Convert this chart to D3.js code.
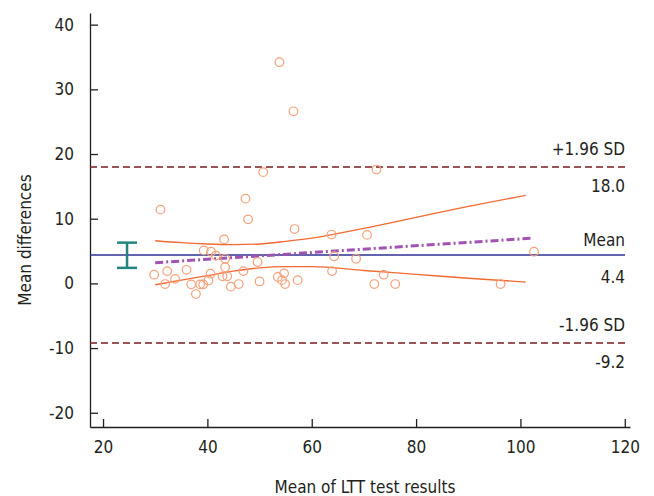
<!DOCTYPE html>
<html>
<head>
<meta charset="utf-8">
<script src="https://cdn.jsdelivr.net/npm/d3@7"></script>
<style>
  body { margin: 0; background: #fff; }
  svg text { font-family: "Liberation Sans Narrow", "DejaVu Sans Condensed", "Roboto", sans-serif; font-stretch: condensed; fill: #231f20; }
  .axis path, .axis line { stroke: #231f20; stroke-width: 1.3; }
</style>
</head>
<body>
<svg id="chart" width="654" height="496"></svg>
<script>
//----------------
// Data
//----------------

// mean of the two LTT measurements (x) and their difference (y)
const meanX = [29.8, 31.0, 31.9, 32.3, 33.8, 36.0, 36.9, 37.8, 38.6, 39.2, 39.3, 40.2, 40.6, 40.7,
  41.6, 42.9, 43.2, 43.4, 43.4, 43.8, 44.5, 46.0, 46.9, 47.3, 47.8, 49.6, 50.0, 50.7, 53.5, 53.8,
  54.3, 54.7, 54.9, 56.5, 56.7, 57.3, 63.8, 63.9, 64.3, 68.5, 70.6, 72.0, 72.4, 73.8, 76.0, 96.2, 102.6];
const diffY = [1.35, 11.4, -0.1, 1.9, 0.7, 2.1, -0.15, -1.65, -0.15, -0.15, 5.1, 0.45, 1.5, 4.9,
  4.3, 1.1, 6.8, 3.8, 2.5, 1.1, -0.5, -0.1, 1.9, 13.1, 9.9, 3.3, 0.3, 17.2, 1.0, 34.2,
  0.5, 1.55, -0.1, 26.6, 8.4, 0.5, 7.55, 1.9, 4.2, 3.8, 7.5, -0.1, 17.6, 1.35, -0.1, -0.1, 4.9];

// limits of agreement
const meanDiff = 4.4;
const upperLoA = 18.0;
const lowerLoA = -9.2;

// confidence interval of the mean difference (error bar)
const ciX = 24.6;
const ciRange = [2.4, 6.3];

// regression line of differences on means
const regX = [30, 102.5];
const regY = [3.2, 7.0];

// confidence band around the regression line
const bandX = [30, 35, 40, 45, 50, 55, 60, 70, 80, 90, 101];
const bandUpper = [6.6, 6.3, 6.1, 6.0, 6.1, 6.5, 7.0, 8.5, 10.2, 11.9, 13.6];
const bandLower = [-0.2, 0.5, 1.2, 1.9, 2.4, 2.6, 2.6, 2.0, 1.4, 0.8, 0.2];

const xTicks = [20, 40, 60, 80, 100, 120];
const yTicks = [-20, -10, 0, 10, 20, 30, 40];

//----------------
// Scales
//----------------

const svg = d3.select("#chart");

const x = d3.scaleLinear().domain([17.5, 121]).range([90, 630]);
const y = d3.scaleLinear().domain([-22.2, 41.8]).range([427, 13]);

const lineEnd = 625;

//----------------
// Axes
//----------------

svg.append("g")
  .attr("class", "axis")
  .attr("transform", "translate(0," + y.range()[0] + ")")
  .call(d3.axisBottom(x).tickValues(xTicks).tickFormat(d => String(d))
    .tickSize(-8).tickPadding(14).tickSizeOuter(0))
  .call(g => g.selectAll("text").attr("font-size", 17));

svg.append("g")
  .attr("class", "axis")
  .attr("transform", "translate(" + x.range()[0] + ",0)")
  .call(d3.axisLeft(y).tickValues(yTicks).tickFormat(d => String(d))
    .tickSize(-8).tickPadding(16).tickSizeOuter(0))
  .call(g => g.selectAll("text").attr("font-size", 17));

svg.append("text")
  .attr("x", 365)
  .attr("y", 493)
  .attr("text-anchor", "middle")
  .attr("font-size", 17)
  .text("Mean of LTT test results");

svg.append("text")
  .attr("transform", "translate(31,240) rotate(-90)")
  .attr("text-anchor", "middle")
  .attr("font-size", 17)
  .text("Mean differences");

//----------------
// Reference lines
//----------------

svg.append("line")
  .attr("x1", x.range()[0]).attr("x2", lineEnd)
  .attr("y1", y(meanDiff)).attr("y2", y(meanDiff))
  .attr("stroke", "#2e3192").attr("stroke-width", 1.5);

[upperLoA, lowerLoA].forEach(v => {
  svg.append("line")
    .attr("x1", x.range()[0]).attr("x2", lineEnd)
    .attr("y1", y(v)).attr("y2", y(v))
    .attr("stroke", "#7a1c22").attr("stroke-width", 1.5)
    .attr("stroke-dasharray", "7,4");
});

// labels on the right
const labels = [
  {text: "+1.96 SD", v: upperLoA, dy: -12},
  {text: upperLoA.toFixed(1), v: upperLoA, dy: 25},
  {text: "Mean", v: meanDiff, dy: -9},
  {text: meanDiff.toFixed(1), v: meanDiff, dy: 28},
  {text: "-1.96 SD", v: lowerLoA, dy: -12},
  {text: lowerLoA.toFixed(1), v: lowerLoA, dy: 25}
];
svg.selectAll(".lab")
  .data(labels)
  .enter().append("text")
  .attr("class", "lab")
  .attr("x", lineEnd)
  .attr("y", d => y(d.v) + d.dy)
  .attr("text-anchor", "end")
  .attr("font-size", 17)
  .text(d => d.text);

//----------------
// Regression and band
//----------------

const band = d3.line().curve(d3.curveMonotoneX);

svg.append("path")
  .attr("d", band(bandX.map((d, i) => [x(d), y(bandUpper[i])])))
  .attr("fill", "none").attr("stroke", "#f26a32").attr("stroke-width", 1.4);

svg.append("path")
  .attr("d", band(bandX.map((d, i) => [x(d), y(bandLower[i])])))
  .attr("fill", "none").attr("stroke", "#f26a32").attr("stroke-width", 1.4);

svg.append("line")
  .attr("x1", x(regX[0])).attr("x2", x(regX[1]))
  .attr("y1", y(regY[0])).attr("y2", y(regY[1]))
  .attr("stroke", "#a053b0").attr("stroke-width", 3)
  .attr("stroke-dasharray", "8,3,2,3");

//----------------
// Error bar
//----------------

const eb = svg.append("g").attr("stroke", "#22867f").attr("stroke-width", 2.5);
eb.append("line")
  .attr("x1", x(ciX)).attr("x2", x(ciX))
  .attr("y1", y(ciRange[0])).attr("y2", y(ciRange[1]));
[ciRange[0], ciRange[1]].forEach(v => {
  eb.append("line")
    .attr("x1", x(ciX) - 10).attr("x2", x(ciX) + 10)
    .attr("y1", y(v)).attr("y2", y(v));
});

//----------------
// Points
//----------------

svg.append("g")
  .selectAll("circle")
  .data(meanX)
  .enter().append("circle")
  .attr("cx", d => x(d))
  .attr("cy", (d, i) => y(diffY[i]))
  .attr("r", 4.3)
  .attr("fill", "none")
  .attr("stroke", "#f5a079")
  .attr("stroke-width", 1.2);
</script>
</body>
</html>
